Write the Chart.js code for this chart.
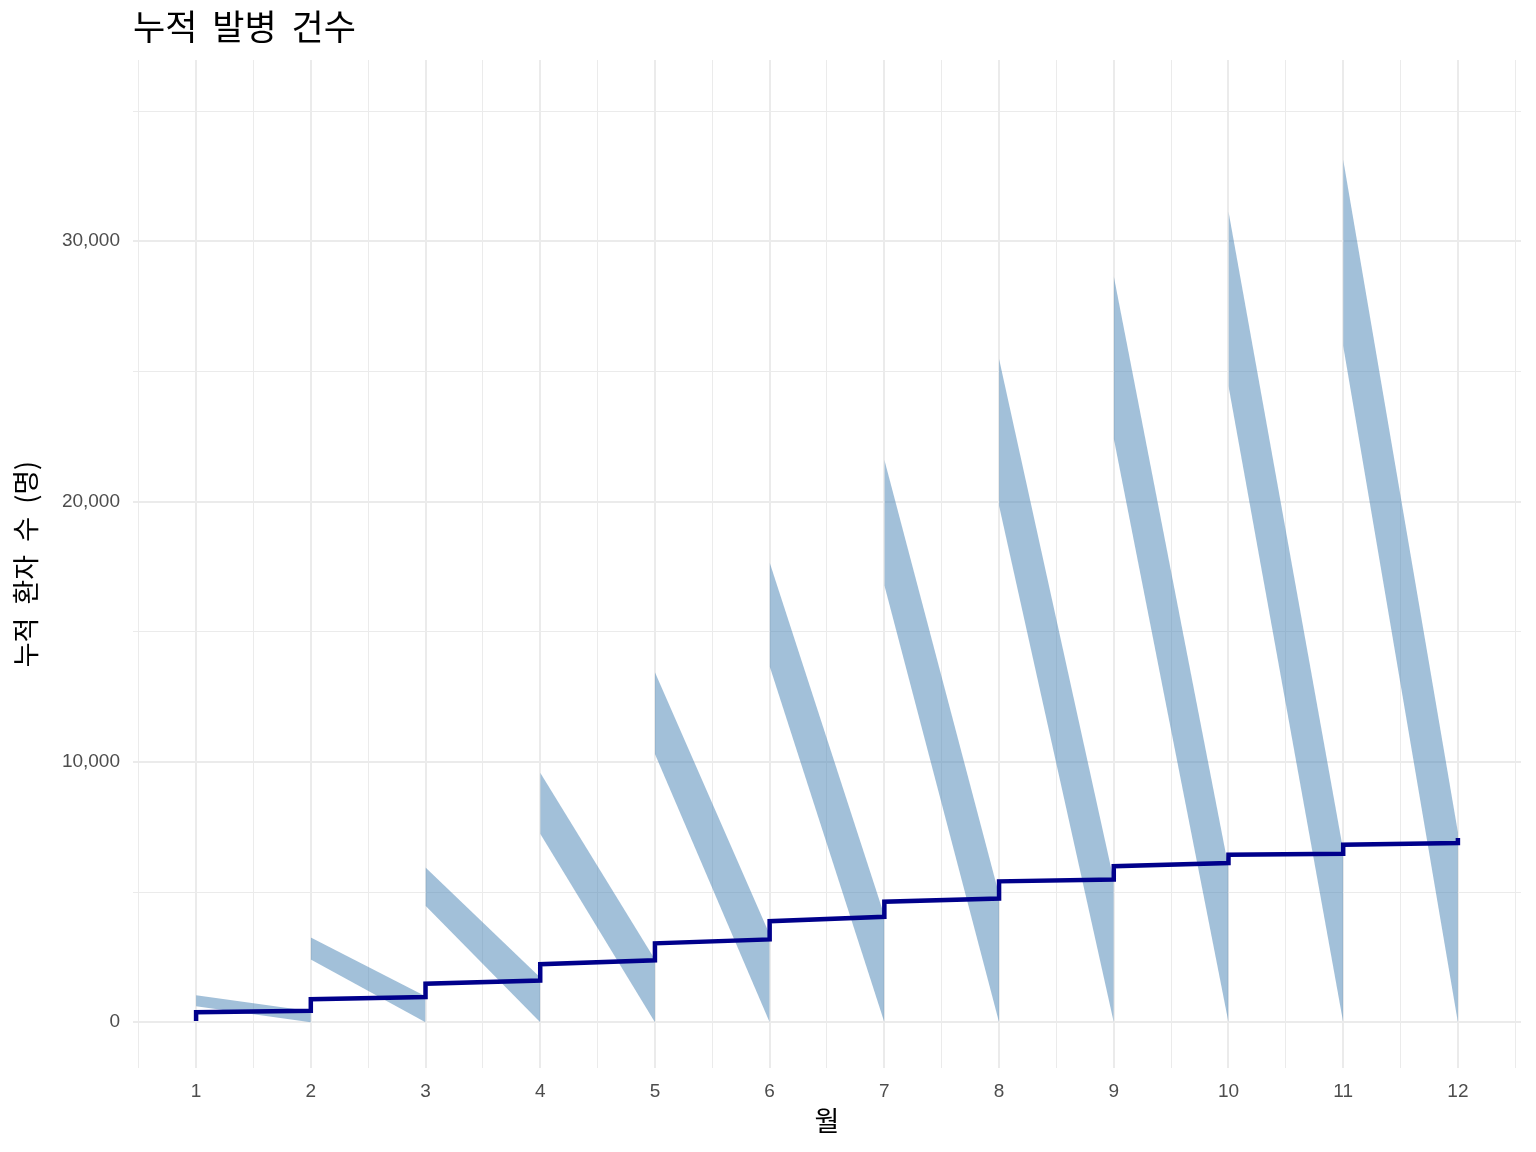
<!DOCTYPE html>
<html>
<head>
<meta charset="utf-8">
<script src="https://cdn.jsdelivr.net/npm/chart.js@4.4.1/dist/chart.umd.min.js"></script>
<style>
  body { margin: 0; background: #fff; }
  canvas { display: block; }
</style>
</head>
<body>
<canvas id="cumChart" width="1536" height="1152"></canvas>
<script>
// 월 (x 위치)
const months = [1, 2, 3, 4, 5, 6, 7, 8, 9, 10, 11, 12];

// 누적 환자 수: 각 월 시작값 / 월말값
const cumStart = [380, 880, 1480, 2230, 3030, 3880, 4630, 5410, 5990, 6435, 6820, 7075];
const cumEnd = [435, 970, 1600, 2375, 3180, 4050, 4750, 5480, 6115, 6470, 6880];
const cumFirst = 50;

// 리본 (1~11월): 월 시작 위/아래, 다음 월 위/아래
const ribbonUpperStart = [1030, 3250, 5940, 9580, 13440, 17660, 21600, 25470, 28650, 31140, 33130];
const ribbonLowerStart = [610, 2410, 4470, 7240, 10300, 13670, 16780, 19840, 22420, 24440, 25970];
const ribbonUpperEnd = [420, 1000, 1720, 2410, 3370, 4100, 4900, 5450, 5950, 6600, 7300];
const ribbonLowerEnd = [0, 0, 0, 0, 0, 0, 0, 0, 0, 0, 0];

const xTicks = [0.5, 1, 1.5, 2, 2.5, 3, 3.5, 4, 4.5, 5, 5.5, 6, 6.5, 7, 7.5, 8, 8.5, 9, 9.5, 10, 10.5, 11, 11.5, 12, 12.5];
const yTicks = [0, 5000, 10000, 15000, 20000, 25000, 30000, 35000];

const KR_FONT = '"Noto Sans CJK KR", "Noto Sans", sans-serif';
const NUM_FONT = '"Liberation Sans", Arial, sans-serif';
const RIBBON_COLOR = 'rgba(70,130,180,0.5)';

// step line points
const stepPoints = [{ x: months[0], y: cumFirst }];
cumStart.forEach((v, i) => {
    stepPoints.push({ x: months[i], y: v });
    if (i < cumEnd.length) stepPoints.push({ x: months[i + 1], y: cumEnd[i] });
});

const datasets = [{
    label: '누적',
    data: stepPoints,
    borderColor: '#00008B',
    borderWidth: 4.5,
    borderJoinStyle: 'miter',
    borderCapStyle: 'butt',
    pointRadius: 0,
    fill: false,
    tension: 0
}];

ribbonUpperStart.forEach((u, i) => {
    const lowerIndex = datasets.length;
    datasets.push({
        label: 'lower' + months[i],
        data: [{ x: months[i], y: ribbonLowerStart[i] }, { x: months[i + 1], y: ribbonLowerEnd[i] }],
        borderWidth: 0,
        pointRadius: 0,
        fill: false
    });
    datasets.push({
        label: 'upper' + months[i],
        data: [{ x: months[i], y: u }, { x: months[i + 1], y: ribbonUpperEnd[i] }],
        borderWidth: 0,
        pointRadius: 0,
        backgroundColor: RIBBON_COLOR,
        fill: lowerIndex
    });
});

const isMajorX = v => Number.isInteger(v);
const isMajorY = v => v % 10000 === 0;

// 한글 제목의 단어 간격을 원본처럼 조금 넓게
const wordSpacingPlugin = {
    id: 'wordSpacing',
    beforeDraw: chart => { chart.ctx.wordSpacing = '7px'; }
};

new Chart(document.getElementById('cumChart'), {
    type: 'line',
    data: { datasets: datasets },
    plugins: [wordSpacingPlugin],
    options: {
        responsive: false,
        animation: false,
        devicePixelRatio: 1,
        layout: { padding: { left: 0, right: 15, top: 0, bottom: 0 } },
        plugins: {
            legend: { display: false },
            tooltip: { enabled: false },
            title: {
                display: true,
                text: '누적 발병 건수',
                align: 'start',
                fullSize: false,
                color: '#000',
                font: { family: KR_FONT, size: 35, weight: 'normal' },
                padding: { top: 6, bottom: 12 }
            }
        },
        scales: {
            x: {
                type: 'linear',
                min: 0.45,
                max: 12.55,
                afterBuildTicks: s => { s.ticks = xTicks.map(v => ({ value: v })); },
                afterFit: s => { s.height = 84; },
                border: { display: false },
                grid: {
                    drawTicks: false,
                    color: '#EBEBEB',
                    lineWidth: c => isMajorX(c.tick.value) ? 2 : 1
                },
                ticks: {
                    autoSkip: false,
                    maxRotation: 0,
                    padding: 12,
                    color: '#4D4D4D',
                    font: { family: NUM_FONT, size: 19 },
                    callback: v => isMajorX(v) ? String(v) : ''
                },
                title: {
                    display: true,
                    text: '월',
                    color: '#000',
                    font: { family: KR_FONT, size: 27 },
                    padding: { top: 0, bottom: 15 }
                }
            },
            y: {
                min: -1760,
                max: 36960,
                afterBuildTicks: s => { s.ticks = yTicks.map(v => ({ value: v })); },
                afterFit: s => { s.width = 133; },
                border: { display: false },
                grid: {
                    drawTicks: false,
                    color: '#EBEBEB',
                    lineWidth: c => isMajorY(c.tick.value) ? 2 : 1
                },
                ticks: {
                    padding: 13,
                    color: '#4D4D4D',
                    font: { family: NUM_FONT, size: 19 },
                    callback: v => isMajorY(v) ? v.toLocaleString('en-US') : ''
                },
                title: {
                    display: true,
                    text: '누적 환자 수 (명)',
                    color: '#000',
                    font: { family: KR_FONT, size: 27 },
                    padding: { top: 10, bottom: 0 }
                }
            }
        }
    }
});
</script>
</body>
</html>
